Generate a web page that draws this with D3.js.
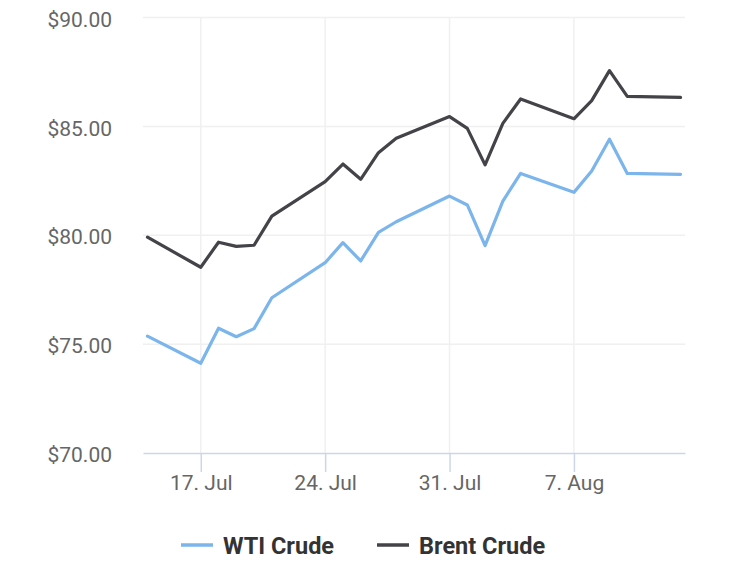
<!DOCTYPE html>
<html>
<head>
  <meta charset="utf-8">
  <script src="https://d3js.org/d3.v7.min.js"></script>
  <style>
    body { margin: 0; background: #fff; font-family: Roboto, sans-serif; }
    .grid line { stroke: #f0f0f0; stroke-width: 1.5px; }
    .axis-y text { fill: #666; font-size: 21px; font-family: Roboto; }
    .axis-x text { fill: #666; font-size: 21px; font-family: Roboto; }
    .legend text { fill: #333; font-size: 23.5px; font-weight: bold; font-family: Roboto; }
  </style>
</head>
<body>
<svg id="chart" width="730" height="566"></svg>
<script>

// ---- data ----
const dates = ["2023-07-14","2023-07-17","2023-07-18","2023-07-19","2023-07-20","2023-07-21",
               "2023-07-24","2023-07-25","2023-07-26","2023-07-27","2023-07-28",
               "2023-07-31","2023-08-01","2023-08-02","2023-08-03","2023-08-04",
               "2023-08-07","2023-08-08","2023-08-09","2023-08-10","2023-08-13"];
const wti   = [75.37, 74.12, 75.73, 75.34, 75.71, 77.13,
               78.74, 79.66, 78.82, 80.13, 80.62,
               81.80, 81.39, 79.52, 81.57, 82.84,
               81.97, 82.95, 84.41, 82.84, 82.80];
const brent = [79.91, 78.53, 79.68, 79.49, 79.54, 80.88,
               82.46, 83.27, 82.57, 83.79, 84.45,
               85.45, 84.91, 83.23, 85.14, 86.26,
               85.35, 86.18, 87.56, 86.38, 86.33];
const seriesNames = ["WTI Crude", "Brent Crude"];
const seriesColors = ["#7cb5ec", "#434348"];
const yTicks = [70, 75, 80, 85, 90];
const xTicks = ["2023-07-17","2023-07-24","2023-07-31","2023-08-07"];
const xDomain = ["2023-07-13T18:00","2023-08-13T06:00"];

const parse = d3.utcParse("%Y-%m-%d");
const parseT = d3.utcParse("%Y-%m-%dT%H:%M");

const svg = d3.select("#chart");
const margin = { left: 143, right: 45, top: 17.5, bottom: 113 };
const width = 730 - margin.left - margin.right;
const height = 566 - margin.top - margin.bottom;

const x = d3.scaleUtc().domain(xDomain.map(parseT)).range([0, width]);
const y = d3.scaleLinear().domain([70, 90]).range([height, 0]);

const g = svg.append("g").attr("transform", `translate(${margin.left},${margin.top})`);

// grid lines
g.append("g").attr("class", "grid")
  .selectAll("line.h").data(yTicks.slice(1)).join("line")
  .attr("x1", 0).attr("x2", width)
  .attr("y1", d => y(d)).attr("y2", d => y(d));
g.append("g").attr("class", "grid")
  .selectAll("line.v").data(xTicks.map(parse)).join("line")
  .attr("x1", d => x(d)).attr("x2", d => x(d))
  .attr("y1", 0).attr("y2", height);

// y axis labels
const yAxis = g.append("g").attr("class", "axis-y")
  .call(d3.axisLeft(y).tickValues(yTicks).tickSize(0).tickPadding(31)
          .tickFormat(d => "$" + d3.format(".2f")(d)));
yAxis.select(".domain").remove();
yAxis.selectAll("text").attr("dy", "0.32em").attr("y", 2);

// x axis
const xAxis = g.append("g").attr("class", "axis-x")
  .attr("transform", `translate(0,${height})`)
  .call(d3.axisBottom(x).tickValues(xTicks.map(parse)).tickSize(19).tickSizeOuter(0).tickPadding(3)
          .tickFormat(d3.utcFormat("%-d. %b")));
xAxis.select(".domain").attr("stroke", "#ccd6eb").attr("stroke-width", 1.5);
xAxis.selectAll(".tick line").attr("stroke", "#ccd6eb").attr("stroke-width", 1.5);

// lines
const line = d3.line().x(d => x(d.date)).y(d => y(d.value));
[wti, brent].forEach((vals, i) => {
  const pts = vals.map((v, j) => ({ date: parse(dates[j]), value: v }));
  g.append("path").datum(pts)
    .attr("fill", "none")
    .attr("stroke", seriesColors[i])
    .attr("stroke-width", 3.2)
    .attr("stroke-linejoin", "round")
    .attr("stroke-linecap", "round")
    .attr("d", line);
});

// legend
const legend = svg.append("g").attr("class", "legend").attr("transform", "translate(181,545)");
const legendX = [0, 196];
seriesNames.forEach((name, i) => {
  const item = legend.append("g").attr("transform", `translate(${legendX[i]},0)`);
  item.append("line").attr("x1", 0).attr("x2", 32).attr("y1", 0).attr("y2", 0)
    .attr("stroke", seriesColors[i]).attr("stroke-width", 3.5);
  item.append("text").attr("x", 42).attr("y", 9).text(name);
});

</script>
</body>
</html>
